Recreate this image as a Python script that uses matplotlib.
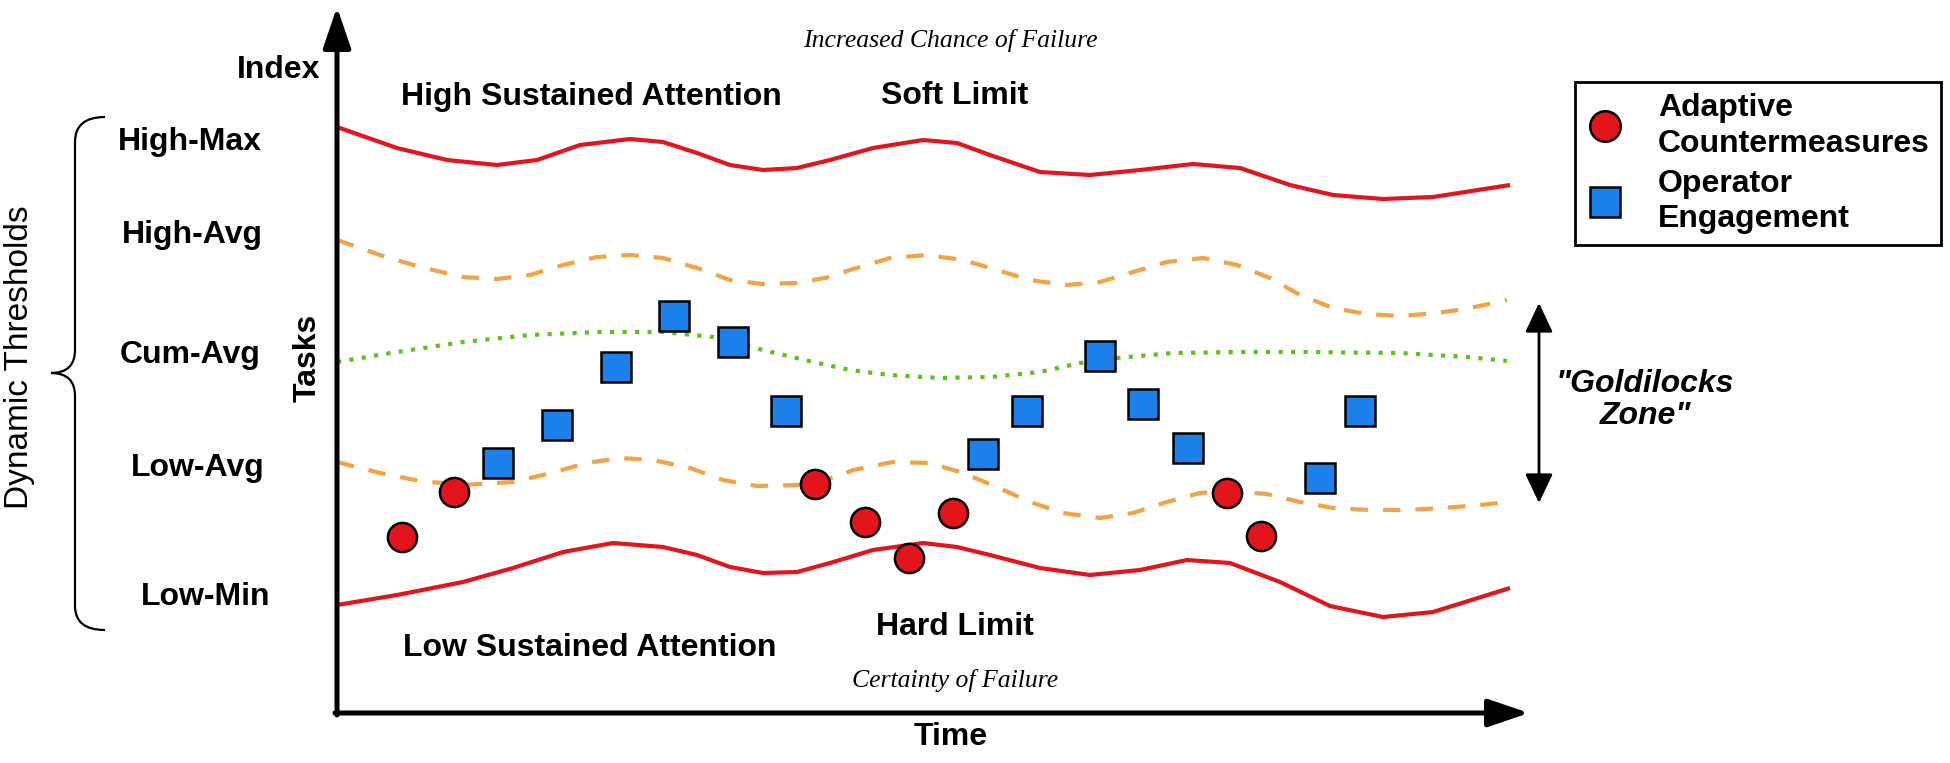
import matplotlib
matplotlib.use("Agg")
import matplotlib.pyplot as plt
from matplotlib.path import Path
from matplotlib.patches import PathPatch
from matplotlib.lines import Line2D

#-------------------- DATA (picture pixels) --------------------#
# upper hard line (High-Max)
high_max_x = [337, 397, 447, 497, 537, 580, 630, 663, 697, 730, 763, 797, 830, 873, 923,
              957, 990, 1040, 1090, 1140, 1193, 1240, 1290, 1333, 1383, 1433, 1510]
high_max_y = [127, 148, 160, 165, 160, 145, 139, 142, 153, 165, 170, 168, 160, 148, 140,
              143, 155, 172, 175, 170, 164, 168, 185, 195, 199, 197, 185]

high_avg_x = [337, 380, 420, 463, 497, 530, 563, 597, 630, 663, 697, 730, 763, 797, 830, 850,
              890, 927, 963, 997, 1030, 1067, 1100, 1133, 1167, 1203, 1237, 1270, 1300, 1333,
              1367, 1400, 1437, 1470, 1507]
high_avg_y = [240, 255, 267, 277, 279, 275, 265, 257, 255, 258, 268, 280, 284, 283, 277, 270,
              258, 255, 260, 270, 280, 285, 282, 272, 262, 258, 265, 278, 295, 308,
              314, 316, 313, 308, 300]

cum_avg_x = [337, 397, 463, 530, 597, 663, 713, 763, 813, 850, 890, 940, 990, 1040, 1080,
             1117, 1173, 1240, 1307, 1400, 1467, 1507]
cum_avg_y = [362, 352, 342, 335, 332, 332, 337, 350, 362, 370, 375, 378, 377, 372, 363,
             358, 353, 352, 352, 353, 357, 361]

low_avg_x = [337, 380, 420, 463, 513, 547, 587, 620, 653, 690, 723, 757, 797, 837, 853, 893,
             930, 963, 997, 1030, 1063, 1100, 1133, 1167, 1200, 1227, 1267, 1300, 1333, 1370,
             1407, 1443, 1480, 1508]
low_avg_y = [462, 473, 481, 485, 482, 474, 463, 458, 460, 468, 480, 486, 485, 477, 470, 462,
             463, 473, 487, 502, 513, 518, 513, 502, 493, 491, 494, 502, 508, 510,
             510, 508, 505, 502]

low_min_x = [337, 397, 463, 513, 563, 613, 663, 697, 730, 763, 797, 830, 873, 923, 957, 990,
             1040, 1090, 1140, 1187, 1230, 1280, 1330, 1383, 1433, 1510]
low_min_y = [605, 595, 582, 568, 552, 543, 547, 555, 567, 573, 572, 563, 550, 543, 547, 555,
             568, 575, 570, 560, 563, 582, 606, 617, 612, 588]

# Adaptive Countermeasures (red circles)
counter_x = [402, 454, 815, 865, 909, 953, 1227, 1261]
counter_y = [537, 492, 484, 522, 558, 513, 493, 536]

# Operator Engagement (blue squares)
engage_x = [498, 557, 616, 674, 733, 786, 983, 1027, 1100, 1143, 1188, 1320, 1360]
engage_y = [463, 425, 367, 316, 342, 411, 454, 411, 356, 404, 448, 478, 411]

threshold_labels = ["High-Max", "High-Avg", "Cum-Avg", "Low-Avg", "Low-Min"]
threshold_label_x = [190, 192, 190, 198, 206]
threshold_label_y = [142, 235, 355, 468, 597]

#-------------------- STYLE --------------------#
RED = "#e3141c"
ORANGE = "#f3a244"
GREEN = "#5cc21c"
BLUE = "#1c80ea"
SANS = "Liberation Sans"
SERIF = "Liberation Serif"

fig = plt.figure(figsize=(19.5, 7.63), dpi=100)
ax = fig.add_axes([0, 0, 1, 1])
ax.set_xlim(0, 1950)
ax.set_ylim(763, 0)
ax.axis("off")

#-------------------- THRESHOLD CURVES --------------------#
solid = dict(lw=3.0, solid_capstyle="butt", solid_joinstyle="round")
ax.plot(high_max_x, high_max_y, color=RED, **solid)
ax.plot(low_min_x, low_min_y, color=RED, **solid)
ax.plot(high_avg_x, high_avg_y, color=ORANGE, lw=3.0, linestyle=(0, (4.2, 3.6)),
        dash_joinstyle="round")
ax.plot(low_avg_x, low_avg_y, color=ORANGE, lw=3.0, linestyle=(0, (4.2, 3.6)),
        dash_joinstyle="round")
ax.plot(cum_avg_x, cum_avg_y, color=GREEN, lw=3.0, linestyle=(0, (1, 2)))

ax.plot(counter_x, counter_y, "o", ms=21, mfc=RED, mec="black", mew=1.8, zorder=5)
ax.plot(engage_x, engage_y, "s", ms=21, mfc=BLUE, mec="black", mew=1.8, zorder=5)

#-------------------- AXES ARROWS --------------------#
ax.annotate("", xy=(337, 7), xytext=(337, 715),
            arrowprops=dict(arrowstyle="-|>,head_length=2.5,head_width=0.85",
                            lw=3.6, color="black", shrinkA=0, shrinkB=0,
                            mutation_scale=10))
ax.annotate("", xy=(1529, 713), xytext=(335, 713),
            arrowprops=dict(arrowstyle="-|>,head_length=2.5,head_width=0.85",
                            lw=3.6, color="black", shrinkA=0, shrinkB=0,
                            mutation_scale=10))
ax.annotate("", xy=(1539, 303), xytext=(1539, 503),
            arrowprops=dict(arrowstyle="<|-|>,head_length=1.8,head_width=0.85",
                            lw=2, color="black", shrinkA=0, shrinkB=0,
                            mutation_scale=10))

#-------------------- TEXT --------------------#
bold = dict(family=SANS, fontweight="bold", fontsize=23, color="black")
for lab, lx, ly in zip(threshold_labels, threshold_label_x, threshold_label_y):
    ax.text(lx, ly, lab, ha="center", va="center", **bold)

ax.text(320, 70, "Index", ha="right", va="center", **bold)
ax.text(308, 358, "Tasks", ha="center", va="center", rotation=90, **bold)
ax.text(951, 737, "Time", ha="center", va="center", **bold)
ax.text(401, 97, "High Sustained Attention", ha="left", va="center", **bold)
ax.text(955, 96, "Soft Limit", ha="center", va="center", **bold)
ax.text(403, 648, "Low Sustained Attention", ha="left", va="center", **bold)
ax.text(955, 627, "Hard Limit", ha="center", va="center", **bold)
ax.text(1645, 400, "\"Goldilocks\nZone\"", ha="center", va="center",
        family=SANS, fontweight="bold", fontstyle="italic", fontsize=23,
        linespacing=1.05)

ax.text(950, 41, "Increased Chance of Failure", ha="center", va="center",
        family=SERIF, fontstyle="italic", fontsize=18.5)
ax.text(955, 680, "Certainty of Failure", ha="center", va="center",
        family=SERIF, fontstyle="italic", fontsize=18.5)

ax.text(20, 357, "Dynamic Thresholds", ha="center", va="center", rotation=90,
        family=SANS, fontsize=24)

# curly brace
verts = [(105, 117), (75, 117), (75, 142), (75, 350), (75, 373), (51, 373),
         (75, 373), (75, 396), (75, 606), (75, 630), (105, 630)]
codes = [Path.MOVETO, Path.CURVE3, Path.CURVE3, Path.LINETO, Path.CURVE3, Path.CURVE3,
         Path.CURVE3, Path.CURVE3, Path.LINETO, Path.CURVE3, Path.CURVE3]
ax.add_patch(PathPatch(Path(verts, codes), fill=False, lw=1.6, color="black"))

#-------------------- LEGEND --------------------#
handles = [Line2D([], [], ls="none", marker="o", ms=22, mfc=RED, mec="black", mew=1.8),
           Line2D([], [], ls="none", marker="s", ms=22, mfc=BLUE, mec="black", mew=1.8)]
leg = ax.legend(handles, ["Adaptive\nCountermeasures", "Operator\nEngagement"],
                loc="upper left", bbox_to_anchor=(1575 / 1950, 1 - 82 / 763),
                borderaxespad=0, fancybox=False, framealpha=1, edgecolor="black",
                borderpad=0.35, labelspacing=0.3, handlelength=1.2, handletextpad=1.05,
                prop=dict(family=SANS, weight="bold", size=23))
leg.get_frame().set_linewidth(2)
for t in leg.get_texts():
    t.set_linespacing(1.25)

plt.savefig("out.png", dpi=100)
